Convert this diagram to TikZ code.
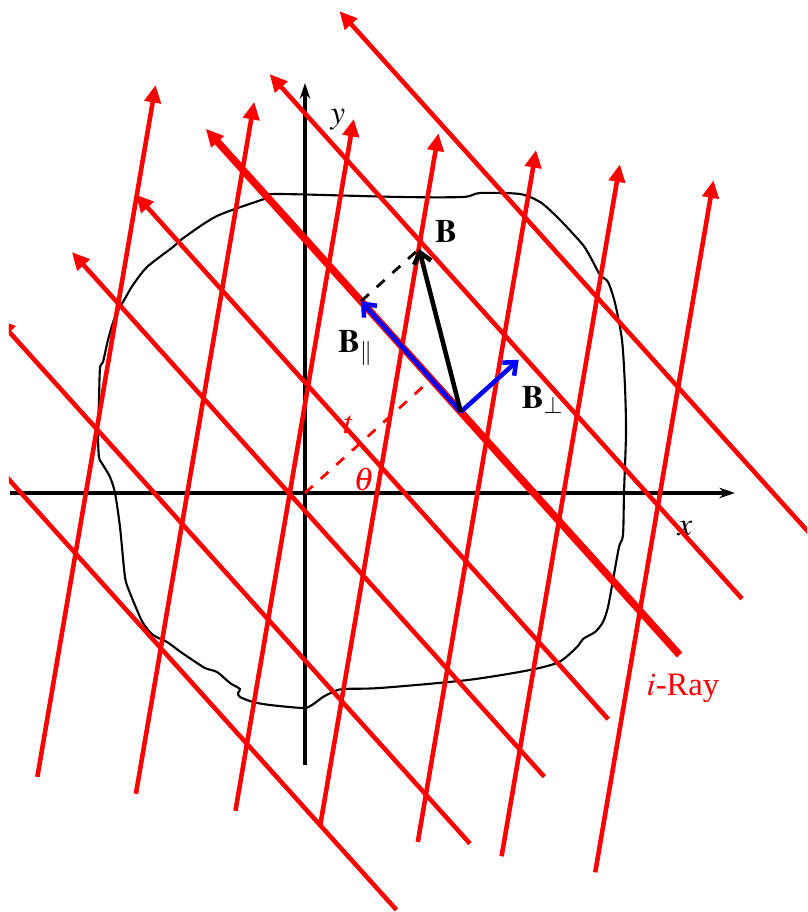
\documentclass[tikz,border=0pt]{standalone}
\usepackage{mathptmx}
\usepackage{fontspec}
\setmainfont{Liberation Serif}
\usetikzlibrary{arrows.meta}

\begin{document}
\begin{tikzpicture}[every node/.style={font=\fontsize{9.3}{11}\selectfont},
    ray/.style={red, line width=1.3pt, -{Triangle[length=5pt,width=4.6pt]}},
    axis/.style={line width=0.95pt, -{Stealth[length=4.5pt,width=3pt]}},
    vec/.style={line width=1.3pt, -{Straight Barb[length=3pt,width=5pt]}}]
    \useasboundingbox (0,0) rectangle (8.07,9.12);
    \coordinate (O) at (3.05,4.19);

    % --- ОСИ КООРДИНАТ ---
    \draw[axis] (0.10,4.19) -- (7.35,4.19);
    \draw[axis] (3.05,1.47) -- (3.05,8.29);
    \node (ylab) at (3.38,7.92) {$y$};
    \node (xlab) at (6.85,3.83) {$x$};

    % --- ГРАНИЦА ОБЪЕКТА ---
    \draw[line width=0.6pt] plot[smooth cycle, tension=0.45] coordinates {
        (2.76,7.18) (4.00,7.15) (4.63,7.15) (4.80,7.19) (5.20,7.18)
        (5.40,7.10) (5.53,6.99) (5.63,6.89) (5.83,6.67) (5.92,6.52)
        (6.00,6.37) (6.08,6.30) (6.15,6.09) (6.22,5.72) (6.25,5.25)
        (6.26,4.79) (6.24,4.19) (6.23,3.77) (6.19,3.65) (6.13,3.32)
        (6.08,3.05) (6.03,2.90) (5.95,2.80) (5.83,2.73) (5.77,2.65)
        (5.59,2.50) (5.30,2.42) (4.68,2.32) (3.80,2.24) (3.43,2.23)
        (3.33,2.20) (3.23,2.15) (3.12,2.07) (3.03,2.04) (2.70,2.07)
        (2.53,2.10) (2.40,2.15) (2.38,2.19) (2.40,2.23) (2.30,2.29)
        (2.17,2.40) (2.05,2.44) (1.88,2.55) (1.78,2.62) (1.67,2.70)
        (1.53,2.77) (1.43,2.89) (1.37,3.02) (1.30,3.19) (1.25,3.35)
        (1.20,3.85) (1.15,4.19) (1.10,4.35) (1.03,4.47) (0.99,4.55)
        (0.98,4.79) (0.99,5.12) (1.00,5.44) (1.03,5.50) (1.08,5.72)
        (1.15,5.95) (1.27,6.17) (1.33,6.27) (1.47,6.45) (1.73,6.65)
        (1.82,6.73) (2.17,6.96) (2.67,7.14)};

    % --- ЛУЧИ ---
    \begin{scope}
        \clip (0.09,0) rectangle (8.07,9.12);
        % Наклонное семейство (нормаль под углом theta)
        \begin{scope}[shift={(O)}, rotate=42]
            \foreach \t in {-2.11,-1.12,-0.12,0.74,2.54,3.48}
                \draw[ray] (\t,-3.71) -- (\t,3.35);
            \draw[ray, line width=2.1pt] (1.70,-3.71) -- (1.70,3.37); % i-луч
            \coordinate (F) at (1.70,0);      % Основание перпендикуляра
            \coordinate (P) at (1.70,-0.44);  % Начало вектора B
            \coordinate (Bpar) at (1.70,1.05);
            \coordinate (Bperp) at (2.48,-0.44);
            \coordinate (B) at (2.48,1.05);
        \end{scope}
        % Почти вертикальное семейство
        \begin{scope}[shift={(O)}, rotate=-9.7]
            \foreach \t in {-2.16,-1.16,-0.15,0.71,1.70,2.55,3.50}
                \draw[ray] (\t,-3.25) -- (\t,3.77);
        \end{scope}
    \end{scope}

    % --- ВЕКТОР B И ЕГО СОСТАВЛЯЮЩИЕ ---
    \draw[red, dashed, line width=0.8pt] (O) -- (F);
    \draw[dashed, line width=0.8pt] (Bpar) -- (B);
    \draw[vec, blue] (P) -- (Bpar);
    \draw[vec, blue] (P) -- (Bperp);
    \draw[vec] (P) -- (B);

    % --- ПОДПИСИ ---
    \node (Blab) at (4.46,6.80) {$\mathbf{B}$};
    \node (Bparlab) at (3.56,5.64) {$\mathbf{B}_\parallel$};
    \node (Bperplab) at (5.43,5.12) {$\mathbf{B}_\perp$};
    \node[red] (tlab) at (3.49,4.87) {$t$};
    \node[red] (thetalab) at (3.64,4.32) {$\theta$};
    \node[red] (raylab) at (6.83,2.24) {$i$-Ray};
\end{tikzpicture}
\end{document}
